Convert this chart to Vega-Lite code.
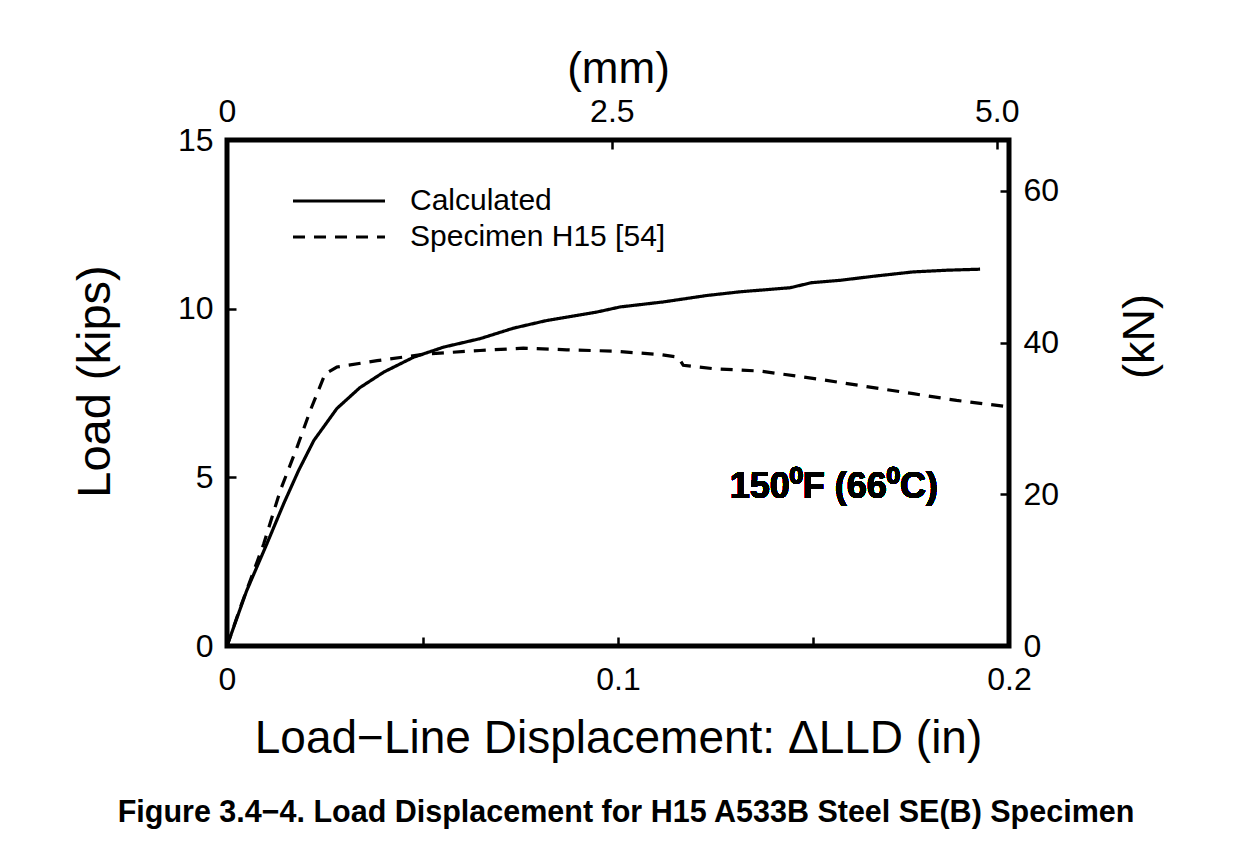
{
  "$schema": "https://vega.github.io/schema/vega-lite/v6.json",
  "width": 782,
  "height": 506,
  "autosize": {"type": "none"},
  "padding": {"left": 227, "top": 140, "right": 236, "bottom": 208},
  "background": "white",
  "config": {
    "view": {"stroke": "black", "strokeWidth": 5},
    "font": "Liberation Sans",
    "axis": {
      "domain": false,
      "grid": false,
      "tickColor": "black",
      "tickWidth": 2.5,
      "tickSize": -9,
      "labelFont": "Liberation Sans",
      "labelFontSize": 32,
      "labelColor": "black",
      "titleFont": "Liberation Sans",
      "titleFontSize": 46,
      "titleFontWeight": "normal",
      "titleColor": "black"
    },
    "legend": {
      "labelFont": "Liberation Sans",
      "labelFontSize": 30,
      "labelColor": "black"
    }
  },
  "title": {
    "text": "Figure 3.4−4. Load Displacement for H15 A533B Steel SE(B) Specimen",
    "orient": "bottom",
    "anchor": "middle",
    "fontSize": 30.5,
    "fontWeight": "bold",
    "font": "Liberation Sans",
    "color": "black",
    "offset": 37,
    "dx": 8
  },
  "data": {
    "values": [
      {"series": "Calculated", "x": 0, "y": 0},
      {"series": "Calculated", "x": 0.005, "y": 1.63},
      {"series": "Calculated", "x": 0.0102, "y": 3.03},
      {"series": "Calculated", "x": 0.0145, "y": 4.22},
      {"series": "Calculated", "x": 0.0183, "y": 5.2},
      {"series": "Calculated", "x": 0.0222, "y": 6.09},
      {"series": "Calculated", "x": 0.0281, "y": 7.04},
      {"series": "Calculated", "x": 0.034, "y": 7.66},
      {"series": "Calculated", "x": 0.0401, "y": 8.12},
      {"series": "Calculated", "x": 0.0477, "y": 8.56},
      {"series": "Calculated", "x": 0.0554, "y": 8.86},
      {"series": "Calculated", "x": 0.0647, "y": 9.11},
      {"series": "Calculated", "x": 0.0732, "y": 9.42},
      {"series": "Calculated", "x": 0.0818, "y": 9.65},
      {"series": "Calculated", "x": 0.0946, "y": 9.9},
      {"series": "Calculated", "x": 0.1005, "y": 10.05},
      {"series": "Calculated", "x": 0.1116, "y": 10.2},
      {"series": "Calculated", "x": 0.1227, "y": 10.39},
      {"series": "Calculated", "x": 0.1312, "y": 10.5},
      {"series": "Calculated", "x": 0.144, "y": 10.62},
      {"series": "Calculated", "x": 0.1495, "y": 10.77},
      {"series": "Calculated", "x": 0.1568, "y": 10.84},
      {"series": "Calculated", "x": 0.1653, "y": 10.96},
      {"series": "Calculated", "x": 0.1755, "y": 11.09},
      {"series": "Calculated", "x": 0.1841, "y": 11.14},
      {"series": "Calculated", "x": 0.1926, "y": 11.17},
      {"series": "Specimen H15 [54]", "x": 0, "y": 0},
      {"series": "Specimen H15 [54]", "x": 0.0034, "y": 1.14},
      {"series": "Specimen H15 [54]", "x": 0.0094, "y": 3.03},
      {"series": "Specimen H15 [54]", "x": 0.0136, "y": 4.6},
      {"series": "Specimen H15 [54]", "x": 0.0179, "y": 5.89},
      {"series": "Specimen H15 [54]", "x": 0.0213, "y": 6.98},
      {"series": "Specimen H15 [54]", "x": 0.0251, "y": 8.07},
      {"series": "Specimen H15 [54]", "x": 0.0281, "y": 8.27},
      {"series": "Specimen H15 [54]", "x": 0.0384, "y": 8.46},
      {"series": "Specimen H15 [54]", "x": 0.0512, "y": 8.66},
      {"series": "Specimen H15 [54]", "x": 0.0647, "y": 8.76},
      {"series": "Specimen H15 [54]", "x": 0.0758, "y": 8.83},
      {"series": "Specimen H15 [54]", "x": 0.0869, "y": 8.78},
      {"series": "Specimen H15 [54]", "x": 0.0988, "y": 8.74},
      {"series": "Specimen H15 [54]", "x": 0.1048, "y": 8.69},
      {"series": "Specimen H15 [54]", "x": 0.1107, "y": 8.64},
      {"series": "Specimen H15 [54]", "x": 0.1154, "y": 8.56},
      {"series": "Specimen H15 [54]", "x": 0.1167, "y": 8.32},
      {"series": "Specimen H15 [54]", "x": 0.1244, "y": 8.22},
      {"series": "Specimen H15 [54]", "x": 0.1363, "y": 8.15},
      {"series": "Specimen H15 [54]", "x": 0.1414, "y": 8.07},
      {"series": "Specimen H15 [54]", "x": 0.1525, "y": 7.89},
      {"series": "Specimen H15 [54]", "x": 0.1636, "y": 7.69},
      {"series": "Specimen H15 [54]", "x": 0.1755, "y": 7.48},
      {"series": "Specimen H15 [54]", "x": 0.1866, "y": 7.28},
      {"series": "Specimen H15 [54]", "x": 0.1985, "y": 7.11},
      {"series": "Specimen H15 [54]", "x": 0.2, "y": 7.08}
    ]
  },
  "layer": [
    {
      "layer": [
        {
          "mark": {"type": "line", "color": "black", "strokeWidth": 3.2},
          "encoding": {
            "x": {
              "field": "x",
              "type": "quantitative",
              "scale": {"domain": [0, 0.2], "nice": false, "zero": false},
              "axis": {
                "orient": "bottom",
                "values": [0, 0.05, 0.1, 0.15, 0.2],
                "format": "~g",
                "labelExpr": "(datum.label == '0.05' || datum.label == '0.15') ? '' : datum.label",
                "labelPadding": 27,
                "labelFlush": false,
                "title": "Load−Line Displacement: ΔLLD (in)",
                "titlePadding": 21
              }
            },
            "y": {
              "field": "y",
              "type": "quantitative",
              "scale": {"domain": [0, 15], "nice": false},
              "axis": {
                "orient": "left",
                "values": [0, 5, 10, 15],
                "labelPadding": 23,
                "labelFlush": false,
                "title": "Load (kips)",
                "titleFontSize": 47,
                "titlePadding": 58,
                "titleY": 241
              }
            },
            "strokeDash": {
              "field": "series",
              "type": "nominal",
              "scale": {
                "domain": ["Calculated", "Specimen H15 [54]"],
                "range": [[1, 0], [12, 9]]
              },
              "legend": {
                "title": null,
                "orient": "none",
                "legendX": 95,
                "legendY": 44,
                "symbolType": "M-3,0H3",
                "symbolSize": 940,
                "symbolStrokeWidth": 3,
                "symbolStrokeColor": "black",
                "symbolFillColor": "transparent",
                "labelOffset": 54,
                "labelLimit": 0,
                "rowPadding": 4
              }
            },
            "order": {"field": "x", "type": "quantitative"}
          }
        },
        {
          "mark": {
            "type": "text",
            "text": "150⁰F (66⁰C)",
            "font": "Liberation Sans",
            "fontSize": 36,
            "fontWeight": "bold",
            "color": "black",
            "align": "center",
            "baseline": "middle"
          },
          "encoding": {
            "x": {"datum": 0.1552},
            "y": {"datum": 4.71}
          }
        }
      ]
    },
    {
      "mark": {"type": "point", "opacity": 0},
      "encoding": {
        "x": {
          "datum": 0,
          "type": "quantitative",
          "scale": {"domain": [0, 5.08], "nice": false, "zero": false},
          "axis": {
            "orient": "top",
            "values": [0, 2.5, 5.0],
            "labelExpr": "datum.value == 0 ? '0' : format(datum.value, '.1f')",
            "labelPadding": 21,
            "labelFlush": false,
            "title": "(mm)",
            "titleFontSize": 44,
            "titlePadding": 4
          }
        },
        "y": {
          "datum": 0,
          "type": "quantitative",
          "scale": {"domain": [0, 66.72], "nice": false},
          "axis": {
            "orient": "right",
            "values": [0, 20, 40, 60],
            "labelPadding": 23,
            "labelFlush": false,
            "title": "(kN)",
            "titleFontSize": 45,
            "titleAngle": 270,
            "titleBaseline": "top",
            "titlePadding": 59,
            "titleY": 196
          }
        }
      }
    }
  ],
  "resolve": {"scale": {"x": "independent", "y": "independent"}}
}
